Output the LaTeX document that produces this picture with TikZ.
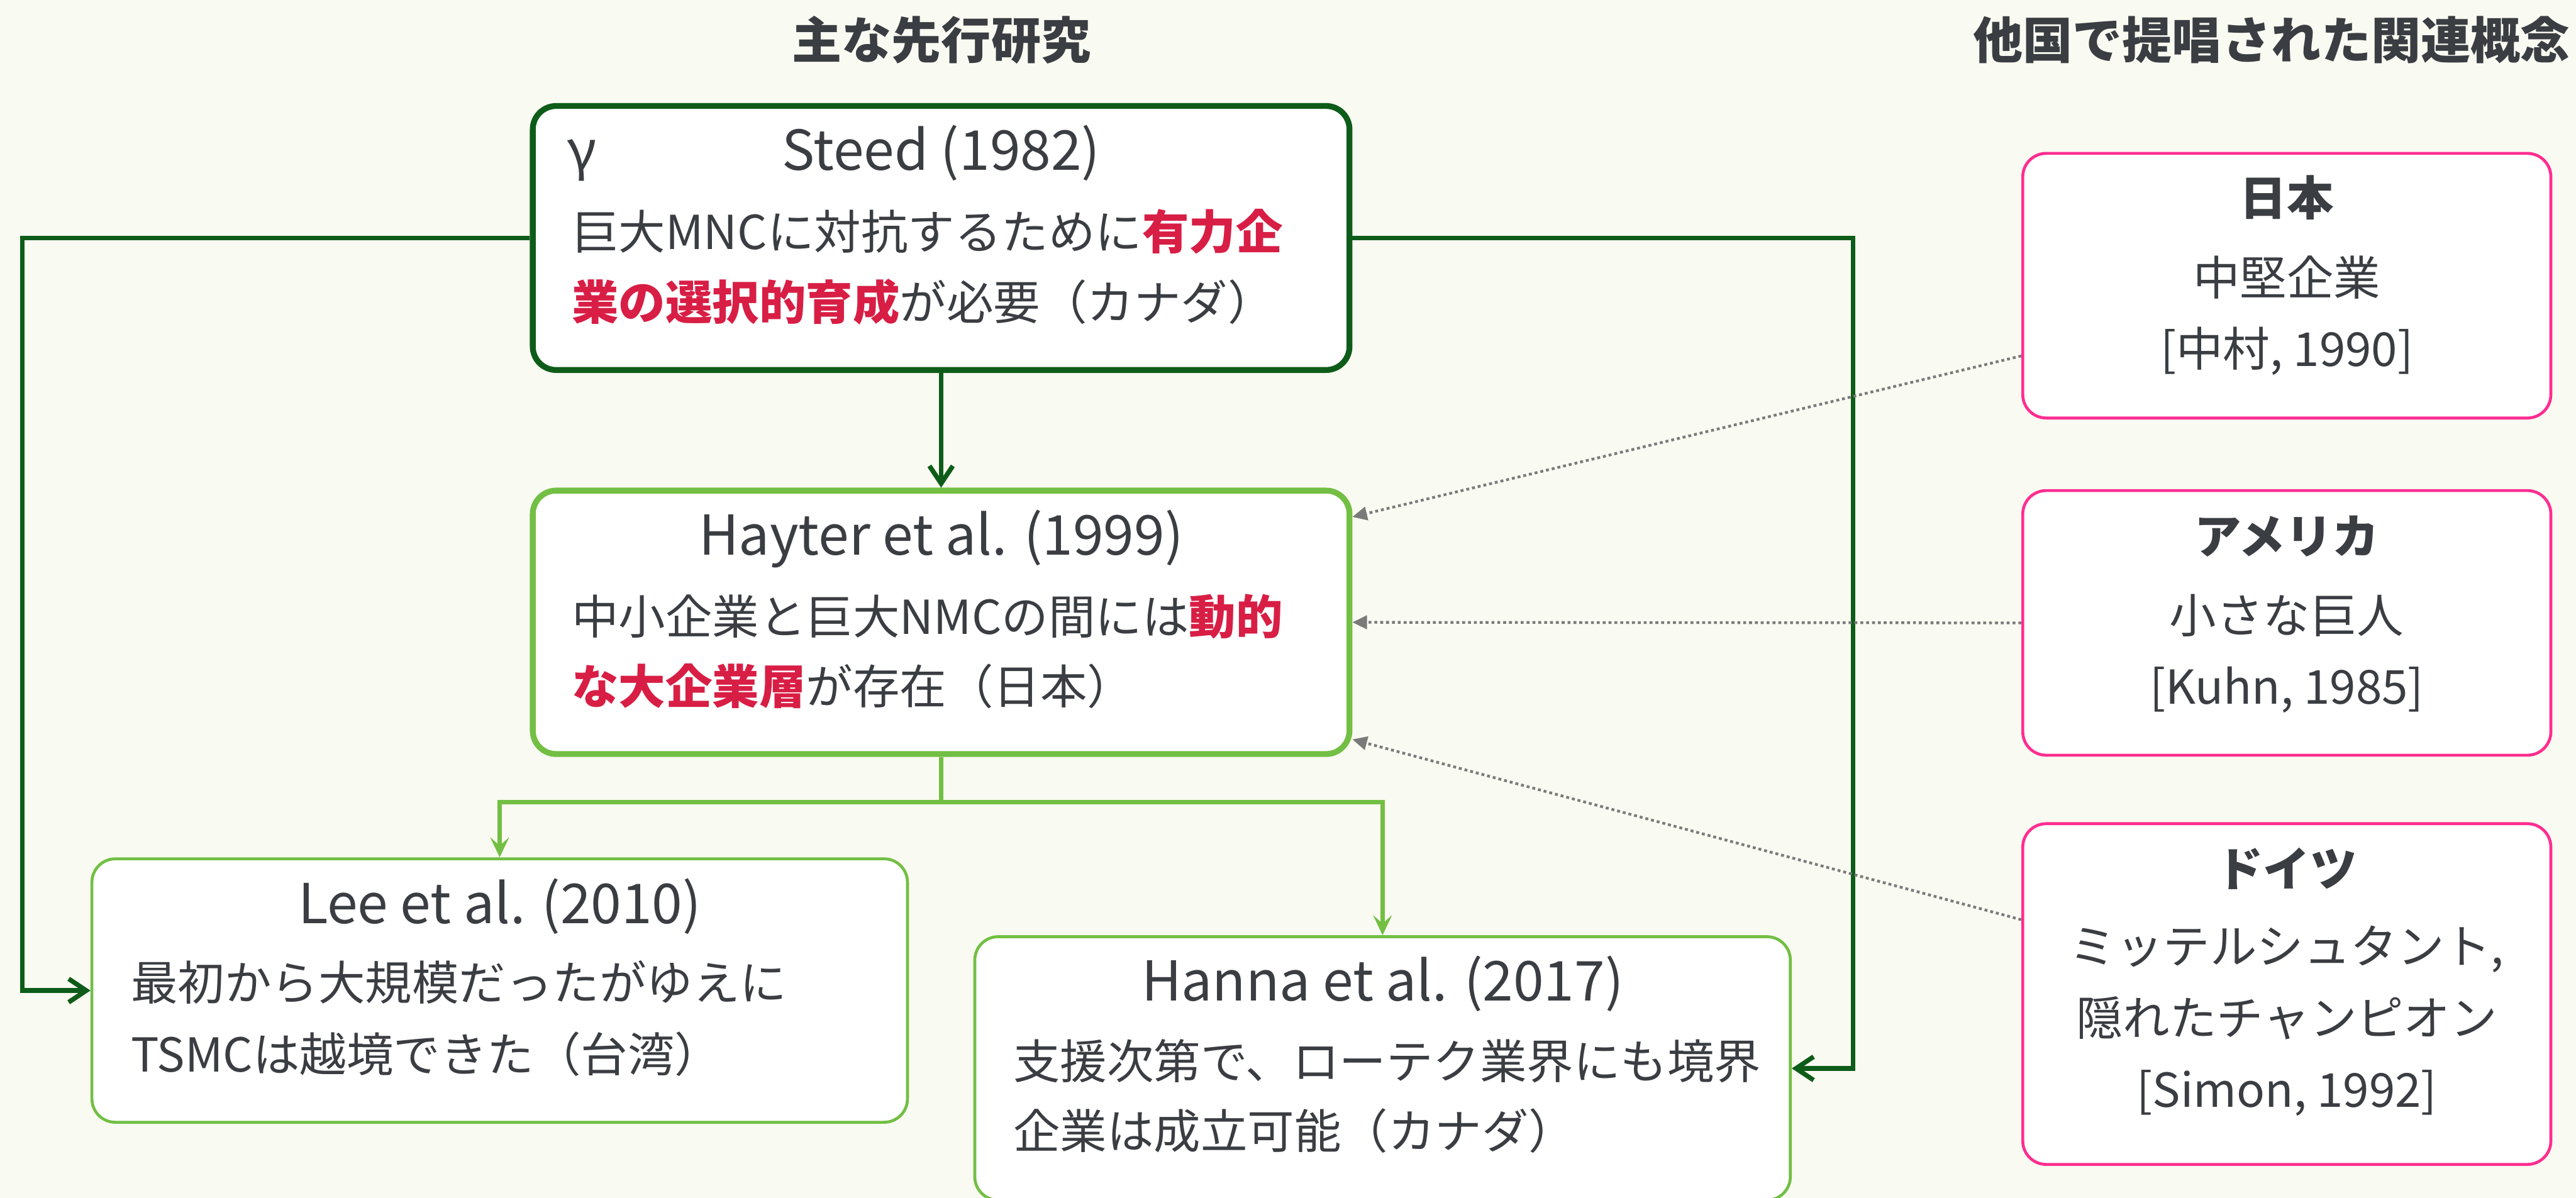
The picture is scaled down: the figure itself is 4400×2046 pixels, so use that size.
\documentclass[tikz,border=0pt]{standalone}
\usepackage{fontspec}
\setmainfont{Noto Sans CJK JP}
\usetikzlibrary{arrows.meta}
\definecolor{bg}{HTML}{F9FAF1}
\definecolor{tgray}{HTML}{3A3D42}
\definecolor{hred}{HTML}{D81E45}
\definecolor{dgreen}{HTML}{0E5C19}
\definecolor{lgreen}{HTML}{72BF44}
\definecolor{pinkc}{HTML}{FF2D90}
\definecolor{dotgray}{HTML}{7A7A7A}
\newcommand{\hl}[1]{{\color{hred}\bfseries #1}}
\begin{document}
\begin{tikzpicture}[x=0.25pt,y=-0.25pt,
  boxdg/.style={draw=dgreen, fill=white, line width=2.5pt, rounded corners=10pt, inner sep=0pt, minimum width=348.75pt},
  boxlg/.style={draw=lgreen, fill=white, line width=2.5pt, rounded corners=10pt, inner sep=0pt, minimum width=348.75pt},
  boxlgt/.style={draw=lgreen, fill=white, line width=1.25pt, rounded corners=10pt, inner sep=0pt, minimum width=348.25pt, minimum height=112.5pt},
  boxpk/.style={draw=pinkc, fill=white, line width=1.25pt, rounded corners=10pt, inner sep=0pt, minimum width=225.5pt},
  dg/.style={draw=dgreen, line width=2pt, -{Straight Barb[length=7.5pt,width=10pt]}},
  lg/.style={draw=lgreen, line width=1.75pt, -{Stealth[length=8.5pt,width=8pt,inset=3.5pt]}},
  dotl/.style={draw=dotgray, line width=1.15pt, dash pattern=on 1.25pt off 1.25pt, -{Triangle[length=6.25pt,width=5.75pt]}},
  bt/.style={inner sep=0pt, outer sep=0pt, text=tgray, anchor=base west, font=\fontsize{20pt}{24pt}\selectfont},
  ttl/.style={inner sep=0pt, outer sep=0pt, text=tgray, anchor=base, font=\fontsize{23.5pt}{28pt}\selectfont},
  rt/.style={inner sep=0pt, outer sep=0pt, text=tgray, anchor=base, font=\fontsize{20pt}{24pt}\selectfont},
  rth/.style={rt, font=\fontsize{20pt}{24pt}\selectfont\bfseries},
  hdr/.style={inner sep=0pt, outer sep=0pt, text=tgray, anchor=base, font=\fontsize{21.25pt}{26pt}\selectfont\bfseries}
]
\fill[bg] (0,0) rectangle (4400,2046);
\useasboundingbox (0,0) rectangle (4400,2046);

% headers
\node[hdr] (h1) at (1608,100) {主な先行研究};
\node[hdr] (h2) at (3880,100) {他国で提唱された関連概念};

% boxes
\node[boxdg, minimum height=112.75pt] (steed) at (1607.5,406.5) {};
\node[boxlg, minimum height=112.5pt] (hayter) at (1607.5,1063) {};
\node[boxlgt] (lee) at (853.5,1692) {};
\node[boxlgt] (hanna) at (2361.5,1825) {};
\node[boxpk, minimum height=113pt] (jp) at (3906,488) {};
\node[boxpk, minimum height=113pt] (us) at (3906,1064) {};
\node[boxpk, minimum height=145.5pt] (de) at (3906,1698) {};

% Steed texts
\node[bt, font=\fontsize{23.5pt}{28pt}\selectfont] (gam) at (968,291) {γ};
\node[ttl] (steedT) at (1607.5,291) {Steed (1982)};
\node[bt] (steedA) at (977,426) {巨大MNCに対抗するために\hl{有力企}};
\node[bt] (steedB) at (977,546) {\hl{業の選択的育成}が必要（カナダ）};

% Hayter texts
\node[ttl] (hayT) at (1607.5,948) {Hayter et al. (1999)};
\node[bt] (hayA) at (977,1083) {中小企業と巨大NMCの間には\hl{動的}};
\node[bt] (hayB) at (977,1203) {\hl{な大企業層}が存在（日本）};

% Lee texts
\node[ttl] (leeT) at (853.5,1577) {Lee et al. (2010)};
\node[bt] (leeA) at (224,1708) {最初から大規模だったがゆえに};
\node[bt] (leeB) at (224,1831) {TSMCは越境できた（台湾）};

% Hanna texts
\node[ttl] (hanT) at (2361.5,1710) {Hanna et al. (2017)};
\node[bt] (hanA) at (1731,1843) {支援次第で、ローテク業界にも境界};
\node[bt] (hanB) at (1731,1962) {企業は成立可能（カナダ）};

% right boxes texts
\node[rth] (jpT) at (3906,368) {日本};
\node[rt] (jpA) at (3906,504) {中堅企業};
\node[rt] (jpB) at (3906,626) {[中村, 1990]};

\node[rth] (usT) at (3906,946) {アメリカ};
\node[rt] (usA) at (3906,1081) {小さな巨人};
\node[rt] (usB) at (3906,1203) {[Kuhn, 1985]};

\node[rth] (deT) at (3906,1514) {ドイツ};
\node[rt] (deA) at (3906,1646) {ミッテルシュタント,};
\node[rt] (deB) at (3906,1769) {隠れたチャンピオン};
\node[rt] (deC) at (3906,1891) {[Simon, 1992]};

% connectors
\coordinate (lcorner) at (38,406.5);
\coordinate (rcorner) at (3165,406.5);
\coordinate (branch) at (1607.5,1370);

\draw[dg] (steed.south) -- (hayter.north);
\draw[dg] (steed.west) -- (lcorner) |- (lee.west);
\draw[dg] (steed.east) -- (rcorner) |- (hanna.east);

\draw[lgreen, line width=1.75pt] (hayter.south) -- (branch);
\draw[lg] (branch) -| (lee.north);
\draw[lg] (branch) -| (hanna.north);

\draw[dotl] ([yshift=-30pt]jp.west) -- ([yshift=45pt]hayter.east);
\draw[dotl] (us.west) -- (hayter.east);
\draw[dotl] ([yshift=31.75pt]de.west) -- ([yshift=-50pt]hayter.east);
\end{tikzpicture}
\end{document}
